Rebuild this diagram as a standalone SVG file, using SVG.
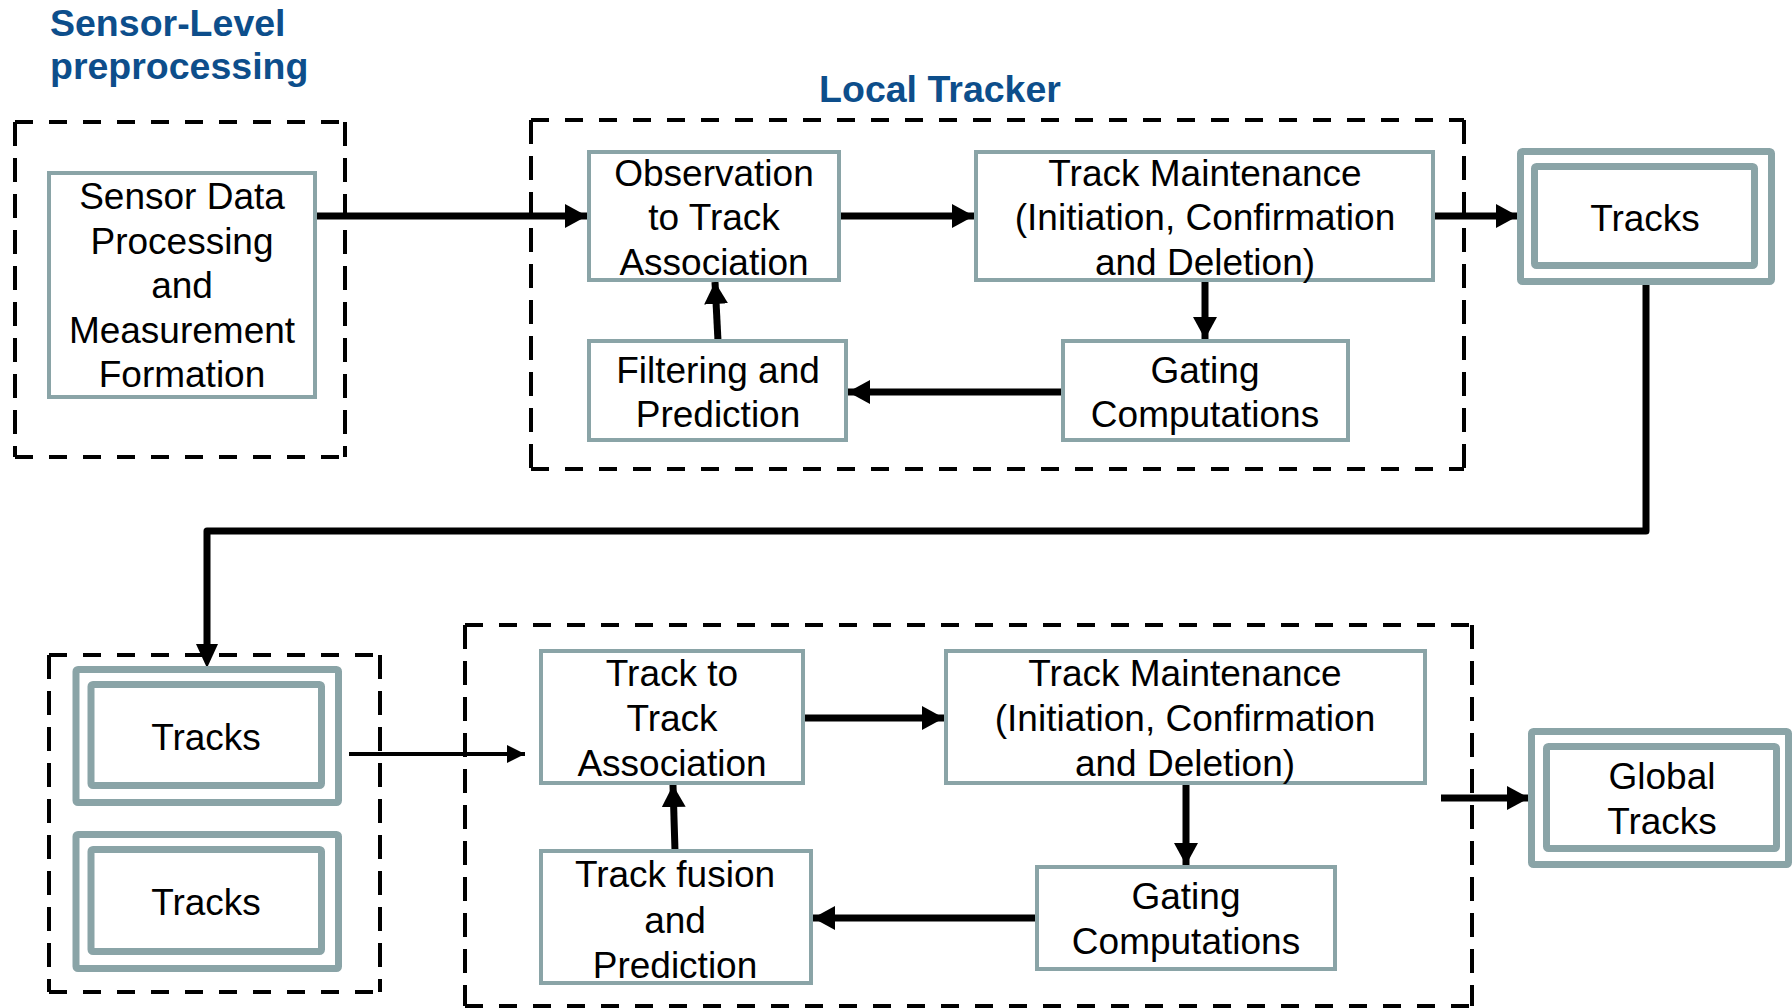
<svg xmlns="http://www.w3.org/2000/svg" width="1792" height="1008" viewBox="0 0 1792 1008">
<defs>
<marker id="ah" markerUnits="userSpaceOnUse" markerWidth="22" markerHeight="24" refX="22" refY="12" orient="auto">
<path d="M0,0 L22,12 L0,24 z" fill="#000"/>
</marker>
<marker id="ahs" markerUnits="userSpaceOnUse" markerWidth="18" markerHeight="18" refX="18" refY="9" orient="auto">
<path d="M0,0 L18,9 L0,18 z" fill="#000"/>
</marker>
</defs>
<style>
.box{fill:#fff;stroke:#8aa4a7;stroke-width:4}
.dbl{fill:#fff;stroke:#8aa4a7;stroke-width:7}
.dh{fill:none;stroke:#000;stroke-width:4;stroke-dasharray:18 16}
.dv{fill:none;stroke:#000;stroke-width:4;stroke-dasharray:24 12}
.t{font-family:"Liberation Sans",Arial,sans-serif;font-size:37px;fill:#000;text-anchor:middle}
.title{font-family:"Liberation Sans",Arial,sans-serif;font-size:37.5px;font-weight:bold;fill:#0d4e8b}
.arr{fill:none;stroke:#000;stroke-width:7;marker-end:url(#ah)}
.arrs{fill:none;stroke:#000;stroke-width:4;marker-end:url(#ahs)}
.ln{fill:none;stroke:#000;stroke-width:7}
</style>
<rect width="1792" height="1008" fill="#fff"/>

<g id="titles">
<text class="title" x="50" y="36">Sensor-Level</text>
<text class="title" x="50" y="79">preprocessing</text>
<text class="title" x="940" y="102" text-anchor="middle">Local Tracker</text>
</g>

<g id="containers">
<g id="sensor-level-group">
<path class="dh" d="M15,122 H345 M15,457 H345"/>
<path class="dv" d="M15,122 V457 M345,122 V457"/>
</g>
<g id="local-tracker-group">
<path class="dh" d="M531,120 H1464 M531,469 H1464"/>
<path class="dv" d="M531,120 V469 M1464,120 V469"/>
</g>
<g id="tracks-group">
<path class="dh" d="M49,655 H380 M49,992 H380"/>
<path class="dv" d="M49,655 V992 M380,655 V992"/>
</g>
<g id="fusion-group">
<path class="dh" d="M465,625 H1472 M465,1006 H1472"/>
<path class="dv" d="M465,625 V1006 M1472,625 V1006"/>
</g>
</g>

<g id="connectors">
<path class="arr" d="M317,216 H587"/>
<path class="arr" d="M841,216 H974"/>
<path class="arr" d="M1435,216 H1518"/>
<path class="arr" d="M1205,282 V339"/>
<path class="arr" d="M1061,392 H848"/>
<path class="arr" d="M718,341 L715,282"/>
<path class="ln" d="M1646,283 V531 H207 V645" stroke-linejoin="round"/>
<path d="M196,644 L207,668 L218,644 z" fill="#000"/>
<path class="arrs" d="M349,754 H525"/>
<path class="arr" d="M805,718 H944"/>
<path class="arr" d="M1186,785 V865"/>
<path class="arr" d="M1035,918 H813"/>
<path class="arr" d="M675,851 L673,785"/>
<path class="arr" d="M1441,798 H1529"/>
</g>

<g id="sensor-data">
<rect class="box" x="49" y="173" width="266" height="224"/>
<text class="t" x="182" y="209">Sensor Data</text>
<text class="t" x="182" y="254">Processing</text>
<text class="t" x="182" y="298">and</text>
<text class="t" x="182" y="343">Measurement</text>
<text class="t" x="182" y="387">Formation</text>
</g>

<g id="observation">
<rect class="box" x="589" y="152" width="250" height="128"/>
<text class="t" x="714" y="186">Observation</text>
<text class="t" x="714" y="230">to Track</text>
<text class="t" x="714" y="275">Association</text>
</g>

<g id="track-maintenance-1">
<rect class="box" x="976" y="152" width="457" height="128"/>
<text class="t" x="1205" y="186">Track Maintenance</text>
<text class="t" x="1205" y="230">(Initiation, Confirmation</text>
<text class="t" x="1205" y="275">and Deletion)</text>
</g>

<g id="gating-1">
<rect class="box" x="1063" y="341" width="285" height="99"/>
<text class="t" x="1205" y="383">Gating</text>
<text class="t" x="1205" y="427">Computations</text>
</g>

<g id="filtering">
<rect class="box" x="589" y="341" width="257" height="99"/>
<text class="t" x="718" y="383">Filtering and</text>
<text class="t" x="718" y="427">Prediction</text>
</g>

<g id="tracks-top">
<rect class="dbl" x="1520.5" y="151.5" width="251" height="130" rx="2"/>
<rect class="dbl" x="1534.5" y="166.5" width="220" height="99" rx="2"/>
<text class="t" x="1645" y="231">Tracks</text>
</g>

<g id="tracks-a">
<rect class="dbl" x="76" y="669.5" width="262.5" height="133" rx="2"/>
<rect class="dbl" x="91" y="684.5" width="230.5" height="101" rx="2"/>
<text class="t" x="206" y="750">Tracks</text>
</g>

<g id="tracks-b">
<rect class="dbl" x="76" y="834.5" width="262.5" height="134" rx="2"/>
<rect class="dbl" x="91" y="849.5" width="230.5" height="102" rx="2"/>
<text class="t" x="206" y="915">Tracks</text>
</g>

<g id="track-to-track">
<rect class="box" x="541" y="651" width="262" height="132"/>
<text class="t" x="672" y="686">Track to</text>
<text class="t" x="672" y="731">Track</text>
<text class="t" x="672" y="776">Association</text>
</g>

<g id="track-maintenance-2">
<rect class="box" x="946" y="651" width="479" height="132"/>
<text class="t" x="1185" y="686">Track Maintenance</text>
<text class="t" x="1185" y="731">(Initiation, Confirmation</text>
<text class="t" x="1185" y="776">and Deletion)</text>
</g>

<g id="gating-2">
<rect class="box" x="1037" y="867" width="298" height="102"/>
<text class="t" x="1186" y="909">Gating</text>
<text class="t" x="1186" y="954">Computations</text>
</g>

<g id="track-fusion">
<rect class="box" x="541" y="851" width="270" height="132"/>
<text class="t" x="675" y="887">Track fusion</text>
<text class="t" x="675" y="933">and</text>
<text class="t" x="675" y="978">Prediction</text>
</g>

<g id="global-tracks">
<rect class="dbl" x="1531.5" y="731.5" width="257" height="133" rx="2"/>
<rect class="dbl" x="1546.5" y="746.5" width="230" height="102" rx="2"/>
<text class="t" x="1662" y="789">Global</text>
<text class="t" x="1662" y="834">Tracks</text>
</g>
</svg>
